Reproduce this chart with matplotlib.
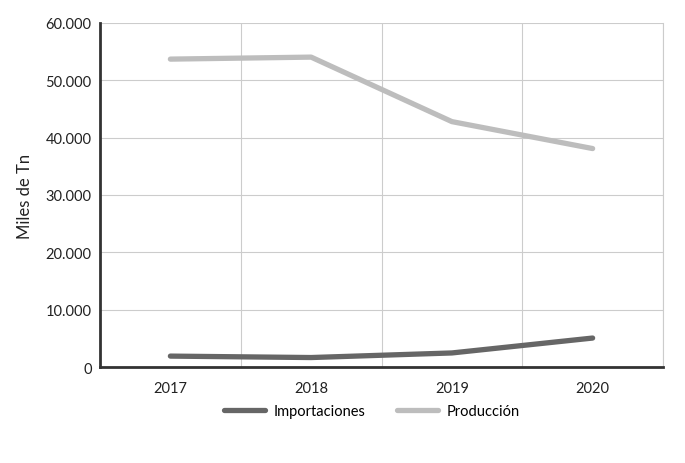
import matplotlib
matplotlib.use("Agg")
import matplotlib.pyplot as plt
from matplotlib.ticker import FuncFormatter, FixedLocator
import numpy as np

years = ["2017", "2018", "2019", "2020"]
importaciones = [1900, 1650, 2450, 5050]
produccion = [53700, 54050, 42800, 38100]
y_ticks = [0, 10000, 20000, 30000, 40000, 50000, 60000]

plt.rcParams['font.family'] = ['Lato', 'DejaVu Sans']

fig = plt.figure(figsize=(6.85, 4.64), dpi=100)
ax = fig.add_axes([100/685, 1-368/464, 563/685, 344/464])

x = np.arange(len(years))
ax.plot(x, importaciones, color='#666666', lw=3.8, solid_capstyle='round', label='Importaciones', zorder=3)
ax.plot(x, produccion, color='#bdbdbd', lw=3.8, solid_capstyle='round', label='Producción', zorder=3)

ax.set_xlim(-0.5, 3.5)
ax.set_ylim(0, 60000)
ax.set_xticks(x)
ax.set_xticklabels(years)
ax.xaxis.set_minor_locator(FixedLocator([0.5, 1.5, 2.5, 3.5]))
ax.set_yticks(y_ticks)
ax.yaxis.set_major_formatter(FuncFormatter(lambda v, p: f"{int(v):,}".replace(",", ".")))

ax.grid(axis='y', color='#cccccc', lw=0.8)
ax.grid(axis='x', which='minor', color='#cccccc', lw=0.8)
ax.set_axisbelow(True)
ax.tick_params(axis='both', which='both', length=0, labelsize=10.5, colors='#222222')
ax.tick_params(axis='x', pad=10)
ax.tick_params(axis='y', pad=6)

ax.spines['top'].set_visible(False)
ax.spines['right'].set_color('#cccccc')
ax.spines['right'].set_linewidth(0.8)
ax.spines['left'].set_color('#333333')
ax.spines['left'].set_linewidth(2)
ax.spines['bottom'].set_color('#333333')
ax.spines['bottom'].set_linewidth(2)

ax.set_ylabel('Miles de Tn', fontsize=12, color='#222222', labelpad=9)

leg = fig.legend(loc='center', bbox_to_anchor=(372/685, 1-412/464), ncol=2, frameon=False,
                 fontsize=10.5, handlelength=2.8, columnspacing=2.2, handletextpad=0.6)

fig.savefig('out.png', dpi=100)
